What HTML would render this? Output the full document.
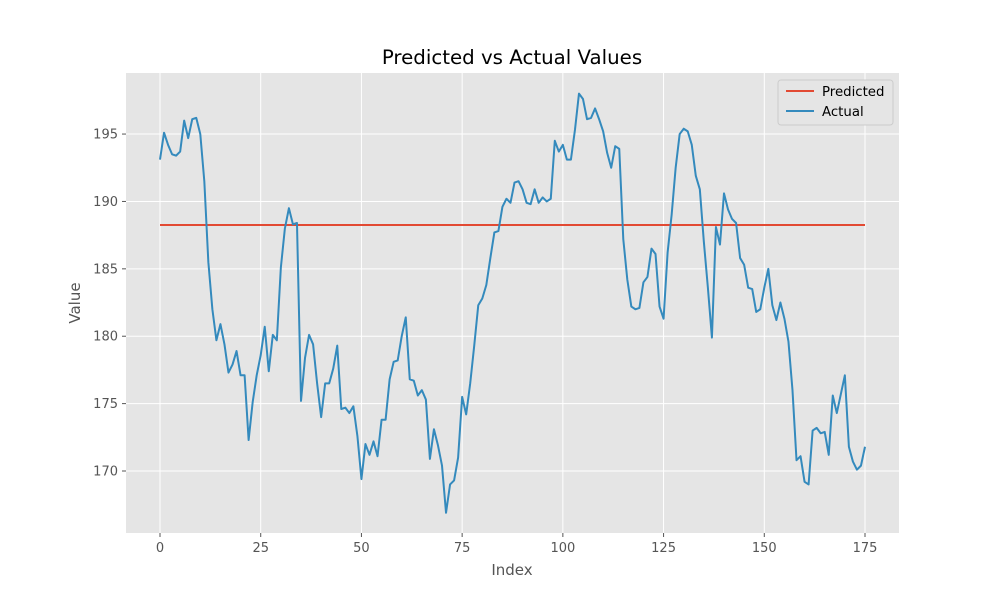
<!DOCTYPE html>
<html><head><meta charset="utf-8"><style>
body{margin:0;background:#fff;font-family:"Liberation Sans","DejaVu Sans",sans-serif}
</style></head><body>
<svg id="chart" width="1000" height="600" xmlns="http://www.w3.org/2000/svg" font-family="DejaVu Sans, Liberation Sans, sans-serif">
<rect width="1000" height="600" fill="#fff"/>
<rect x="126" y="73" width="773" height="460" fill="#e5e5e5"/>
<g id="grid"></g>
<g id="xticks"></g>
<g id="yticks"></g>
<g id="series"></g>
<text x="512" y="64" text-anchor="middle" font-size="19.8" fill="#000">Predicted vs Actual Values</text>
<text x="512" y="575" text-anchor="middle" font-size="15" fill="#555">Index</text>
<text x="80" y="303" text-anchor="middle" font-size="15" fill="#555" transform="rotate(-90 80 303)">Value</text>
<g>
<rect x="778" y="80" width="115" height="45" rx="3" fill="#e5e5e5" stroke="#ccc" stroke-width="1"/>
<line x1="786" y1="91" x2="814" y2="91" stroke="#E24A33" stroke-width="2"/>
<text x="822" y="96" font-size="13.3" fill="#000">Predicted</text>
<line x1="786" y1="111" x2="814" y2="111" stroke="#348ABD" stroke-width="2"/>
<text x="822" y="116" font-size="13.3" fill="#000">Actual</text>
</g>
</svg>
<script>
const xTicks=[0,25,50,75,100,125,150,175];
const yTicks=[170,175,180,185,190,195];
const predictedValue=188.25;
const actual=[193.1,195.1,194.2,193.5,193.4,193.7,196.0,194.7,196.1,196.2,195.0,191.5,185.5,182.0,179.7,180.9,179.4,177.3,177.9,178.9,177.1,177.1,172.3,175.1,177.1,178.6,180.7,177.4,180.1,179.7,185.1,188.0,189.5,188.3,188.4,175.2,178.4,180.1,179.4,176.5,174.0,176.5,176.5,177.6,179.3,174.6,174.7,174.3,174.8,172.6,169.4,172.0,171.2,172.2,171.1,173.8,173.8,176.8,178.1,178.2,180.0,181.4,176.8,176.7,175.6,176.0,175.3,170.9,173.1,171.9,170.4,166.9,169.0,169.3,171.0,175.5,174.2,176.5,179.3,182.3,182.8,183.8,185.8,187.7,187.8,189.6,190.2,189.9,191.4,191.5,190.9,189.9,189.8,190.9,189.9,190.3,190.0,190.2,194.5,193.7,194.2,193.1,193.1,195.3,198.0,197.6,196.1,196.2,196.9,196.1,195.2,193.6,192.5,194.1,193.9,187.2,184.2,182.2,182.0,182.1,184.0,184.4,186.5,186.1,182.2,181.3,186.2,189.0,192.5,195.0,195.4,195.2,194.2,191.9,190.9,187.0,183.6,179.9,188.1,186.8,190.6,189.4,188.7,188.4,185.8,185.3,183.6,183.5,181.8,182.0,183.6,185.0,182.3,181.2,182.5,181.3,179.6,176.0,170.8,171.1,169.2,169.0,173.0,173.2,172.8,172.9,171.2,175.6,174.3,175.7,177.1,171.8,170.7,170.1,170.4,171.8];
const NS="http://www.w3.org/2000/svg";
const X0=126,X1=899,Y0=73,Y1=533,xmin=-8.44,xmax=183.44,ymin=165.4,ymax=199.53;
function sx(v){return X0+(v-xmin)/(xmax-xmin)*(X1-X0);}
function sy(v){return Y1-(v-ymin)/(ymax-ymin)*(Y1-Y0);}
function mk(t,a,p){const e=document.createElementNS(NS,t);for(const k in a)e.setAttribute(k,a[k]);p.appendChild(e);return e;}
const grid=document.getElementById('grid'),gx=document.getElementById('xticks'),gy=document.getElementById('yticks'),gs=document.getElementById('series');
xTicks.forEach(t=>{const x=sx(t);
 const l=mk('line',{x1:x,x2:x,y1:Y0,y2:Y1,stroke:'#fff','stroke-width':1},grid);
 
 
 mk('line',{x1:x,x2:x,y1:Y1,y2:Y1+4,stroke:'#555'},gx);
 const tx=mk('text',{x:x,y:Y1+19,'text-anchor':'middle','font-size':13,fill:'#555'},gx);tx.textContent=t;
 
 });
yTicks.forEach(t=>{const y=sy(t);
 const l=mk('line',{x1:X0,x2:X1,y1:y,y2:y,stroke:'#fff','stroke-width':1},grid);
 
 
 mk('line',{x1:X0-4,x2:X0,y1:y,y2:y,stroke:'#555'},gy);
 const tx=mk('text',{x:X0-8,y:y+4.5,'text-anchor':'end','font-size':13,fill:'#555'},gy);tx.textContent=t;
 
 });
const pl=mk('line',{x1:sx(0),x2:sx(actual.length-1),y1:sy(predictedValue),y2:sy(predictedValue),stroke:'#E24A33','stroke-width':2},gs);


const al=mk('polyline',{points:actual.map((v,i)=>sx(i)+','+sy(v)).join(' '),fill:'none',stroke:'#348ABD','stroke-width':2,'stroke-linejoin':'round'},gs);


</script>
</body></html>
